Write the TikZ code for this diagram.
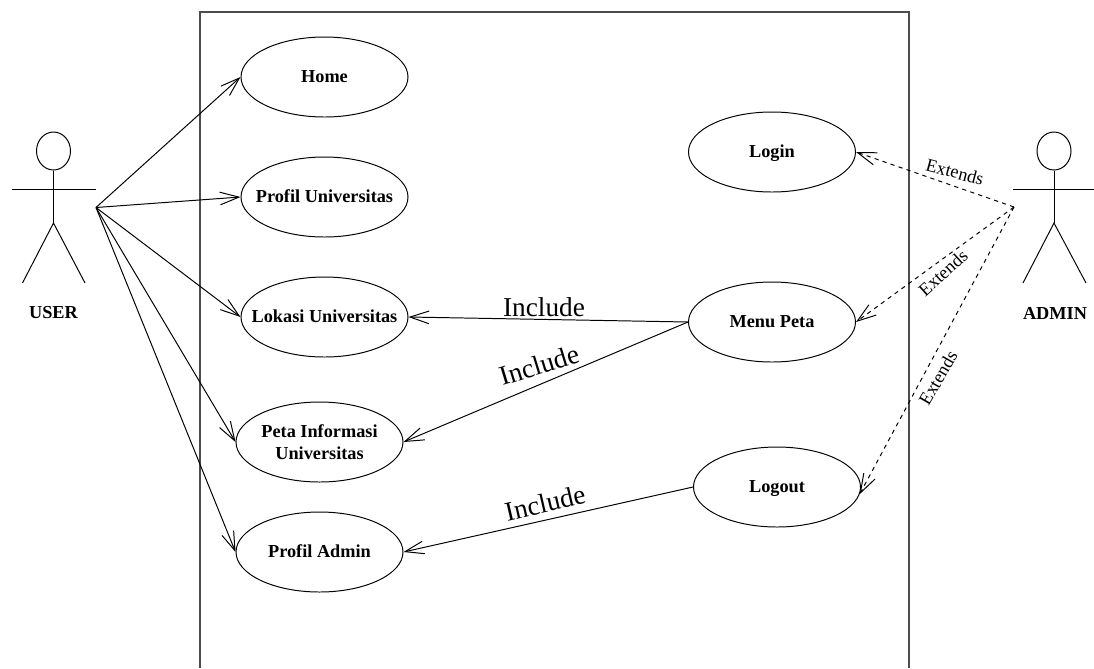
\documentclass[tikz,border=0pt]{standalone}
\usepackage{fontspec}
\setmainfont{Liberation Serif}
\usetikzlibrary{arrows.meta,shapes.geometric}
\tikzset{
	usecase/.style={ellipse, draw, inner xsep=-12pt, inner ysep=0pt, minimum width=41.75mm, minimum height=20mm, align=center, text height=11pt, text depth=2.5pt, font=\fontsize{13}{15.4}\selectfont\bfseries},
	actorname/.style={font=\fontsize{13}{15.4}\selectfont\bfseries},
	actorhead/.style={ellipse, draw, inner sep=0pt, minimum width=8.5mm, minimum height=9.5mm},
	openarrow/.style={-{Straight Barb[length=13.5pt, width=9pt]}},
	includelabel/.style={font=\fontsize{19.4}{22}\selectfont},
	extendslabel/.style={font=\fontsize{13}{15}\selectfont}
}
\begin{document}
\begin{tikzpicture}[x=0.25mm, y=-0.25mm, line width=0.7pt]
	
	\useasboundingbox (0, 0) rectangle (1094, 668);
	
	\coordinate (boxa) at (200, 668);
	\coordinate (boxb) at (200, 12);
	\coordinate (boxc) at (909, 12);
	\coordinate (boxd) at (909, 668);
	\draw[black!70, line width=0.8pt] (boxa) -- (boxb) -- (boxc) -- (boxd);
	
	\node[usecase] at (324.5, 77) (home) {Home};
	\node[usecase] at (324.5, 197) (profil) {Profil Universitas};
	\node[usecase] at (324.5, 317) (lokasi) {Lokasi Universitas};
	\node[usecase, text height=, text depth=] at (319.5, 442) (peta) {Peta Informasi\\Universitas};
	\node[usecase] at (319.5, 552) (admin) {Profil Admin};
	\node[usecase] at (772, 152) (login) {Login};
	\node[usecase] at (772, 322) (menu) {Menu Peta};
	\node[usecase] at (777, 487) (logout) {Logout};
	
	\node[actorhead] at (53.5, 151) (userhead) {};
	\coordinate (userhip) at (53.5, 223);
	\coordinate (userarml) at (12, 189);
	\coordinate (userarmr) at (96, 189);
	\coordinate (userlegl) at (22.5, 283);
	\coordinate (userlegr) at (85, 283);
	\draw (userhead) -- (userhip);
	\draw (userarml) -- (userarmr);
	\draw (userlegl) -- (userhip) -- (userlegr);
	\node[actorname] at (53.5, 313) (username) {USER};
	
	\node[actorhead] at (1054, 151) (adminhead) {};
	\coordinate (adminhip) at (1054, 223);
	\coordinate (adminarml) at (1013, 189.5);
	\coordinate (adminarmr) at (1094, 189.5);
	\coordinate (adminlegl) at (1023, 283);
	\coordinate (adminlegr) at (1086, 283);
	\draw (adminhead) -- (adminhip);
	\draw (adminarml) -- (adminarmr);
	\draw (adminlegl) -- (adminhip) -- (adminlegr);
	\node[actorname] at (1055, 313) (adminname) {ADMIN};
	
	\coordinate (userhand) at (96, 207.5);
	\coordinate (adminhand) at (1014, 207);
	
	\draw[openarrow] (userhand) to (home.west);
	\draw[openarrow] (userhand) to (profil.west);
	\draw[openarrow] (userhand) to (lokasi.west);
	\draw[openarrow] (userhand) to (peta.west);
	\draw[openarrow] (userhand) to (admin.west);
	
	\draw[openarrow] (menu.west) to (lokasi.east);
	\draw[openarrow] (menu.west) to (peta.east);
	\draw[openarrow] (logout.west) to (admin.east);
	
	\draw[openarrow, dashed] (adminhand) to (login.east);
	\draw[openarrow, dashed] (adminhand) to (menu.east);
	\draw[openarrow, dashed] (adminhand) to (logout.355);
	
	\node[includelabel] at (544, 307) (incla) {Include};
	\node[includelabel, rotate=17] at (539, 365) (inclb) {Include};
	\node[includelabel, rotate=13] at (545, 503) (inclc) {Include};
	
	\node[extendslabel, rotate=-15] at (955, 172) (exta) {Extends};
	\node[extendslabel, rotate=42] at (943, 273) (extb) {Extends};
	\node[extendslabel, rotate=60] at (938, 378) (extc) {Extends};
	
\end{tikzpicture}
\end{document}
